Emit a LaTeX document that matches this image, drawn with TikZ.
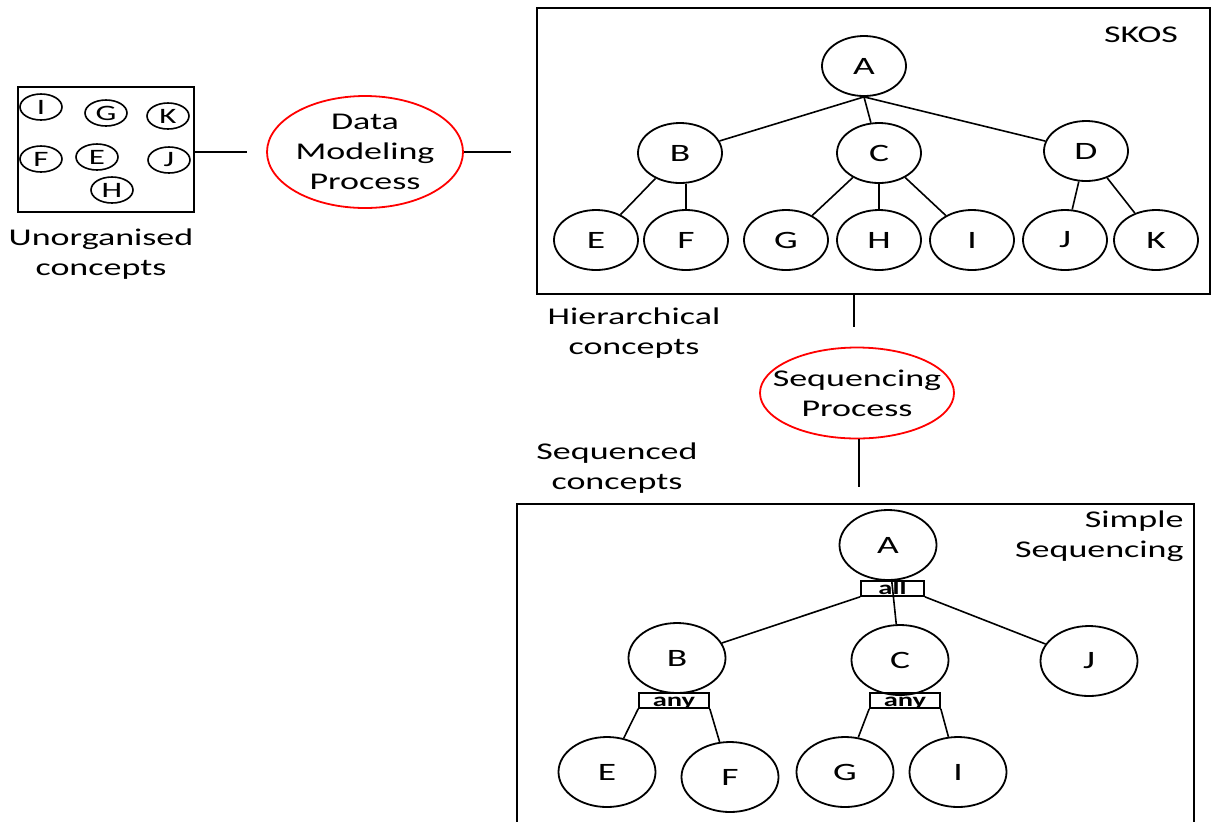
\documentclass[tikz,border=0pt]{standalone}
\usepackage{fontspec}
\setmainfont{Carlito}[FakeStretch=1.5]
\usetikzlibrary{shapes.geometric,positioning}
\tikzset{
  txtfont/.style={font=\fontsize{12}{15}\selectfont},
  concept/.style={ellipse, draw=black, line width=0.9pt, inner sep=0pt, minimum width=42pt, minimum height=30pt, font=\fontsize{12.5}{15}\selectfont},
  bigconcept/.style={concept, minimum width=48.5pt, minimum height=35pt},
  loose/.style={ellipse, draw=black, line width=0.8pt, inner sep=0pt, minimum width=21pt, minimum height=13pt, font=\fontsize{11}{12}\selectfont},
  process/.style={ellipse, draw=red, line width=0.9pt, inner sep=0pt},
  frame/.style={rectangle, draw=black, line width=0.9pt, inner sep=0pt, anchor=north west},
  gate/.style={rectangle, draw=black, line width=0.8pt, inner sep=0pt, minimum width=31.5pt, minimum height=7.5pt, text height=5.5pt, text depth=0pt, font=\bfseries\fontsize{9.5}{10}\selectfont},
  caption/.style={align=center, inner sep=0pt, txtfont},
  branch/.style={draw=black, line width=0.8pt},
}

\begin{document}
\begin{tikzpicture}[x=0.5pt, y=-0.5pt]
  \clip (0,0) rectangle (1211,821);
  % unorganised concepts
  \node[frame, minimum width=88pt, minimum height=62.5pt] (pool) at (17,86) {};
  \node[loose] (uI) at (41,107) {I};
  \node[loose] (uG) at (106,113) {G};
  \node[loose] (uK) at (168,116) {K};
  \node[loose] (uF) at (41,159) {F};
  \node[loose] (uE) at (97,157) {E};
  \node[loose] (uJ) at (169,160) {J};
  \node[loose] (uH) at (112,190) {H};
  \node[caption] (unorg) at (101,254) {Unorganised\\concepts};
  \node[process, minimum width=98pt, minimum height=56pt] (dm) at (365,152) {};
  \node[caption] (dmtxt) at (dm) {Data\\Modeling\\Process};
  \coordinate (dmin) at (247,152);
  \coordinate (dmout) at (511,152);
  \draw[branch] (pool.east |- dmin) -- (dmin);
  \draw[branch] (dm) -- (dmout);

  % SKOS hierarchy
  \node[frame, minimum width=336.5pt, minimum height=143pt] (skosbox) at (536,7) {};
  \node[caption] (skos) at (1141,35) {SKOS};
  \node[concept] (sA) at (864,66) {A};
  \node[concept] (sB) at (680,153) {B};
  \node[concept] (sC) at (879,153) {C};
  \node[concept] (sD) at (1086,151) {D};
  \node[concept] (sE) at (596,240) {E};
  \node[concept] (sF) at (686,240) {F};
  \node[concept] (sG) at (786,240) {G};
  \node[concept] (sH) at (879,240) {H};
  \node[concept] (sI) at (972,240) {I};
  \node[concept] (sJ) at (1065,240) {J};
  \node[concept] (sK) at (1156,240) {K};
  \draw[branch] (sA.south) -- (sB);
  \draw[branch] (sA.south) -- (sC);
  \draw[branch] (sA.south) -- (sD);
  \draw[branch] (sB) -- (sE);
  \draw[branch] (sF |- sB.south) -- (sF);
  \draw[branch] (sC) -- (sG);
  \draw[branch] (sC) -- (sH);
  \draw[branch] (sC) -- (sI);
  \draw[branch] (sD) -- (sJ);
  \draw[branch] (sD) -- (sK);
  \node[caption] (hier) at (634,333) {Hierarchical\\concepts};

  % sequencing step
  \coordinate (sqin) at (854,327);
  \draw[branch] (sqin |- skosbox.south) -- (sqin);
  \node[process, minimum width=97pt, minimum height=45.5pt] (sq) at (857,393) {};
  \node[caption] (sqtxt) at (sq) {Sequencing\\Process};
  \coordinate (sqout) at (859,487);
  \draw[branch] (sqout |- sq.south) -- (sqout);
  \node[caption] (seqd) at (617,468) {Sequenced\\concepts};

  % simple sequencing
  \node[frame, minimum width=338.5pt, minimum height=170pt] (ssbox) at (516,503) {};
  \node[caption, align=right, anchor=east] (ss) at (1184,536) {Simple\\Sequencing};
  \node[bigconcept] (qA) at (888,545) {A};
  \node[bigconcept] (qB) at (677,658) {B};
  \node[bigconcept] (qC) at (900,660) {C};
  \node[bigconcept] (qJ) at (1089,661) {J};
  \node[bigconcept] (qE) at (607,772) {E};
  \node[bigconcept] (qF) at (730,777) {F};
  \node[bigconcept] (qG) at (845,772) {G};
  \node[bigconcept] (qI) at (958,772) {I};
  \node[gate] (all) at (892.5,588.5) {all};
  \node[gate, minimum width=35pt] (anyB) at (674,700.5) {any};
  \node[gate, minimum width=35pt] (anyC) at (905,700.5) {any};
  \draw[branch] (all.south west) -- (qB);
  \draw[branch] (qA) -- (qC);
  \draw[branch] (all.south east) -- (qJ);
  \draw[branch] (anyB.south west) -- (qE);
  \draw[branch] (anyB.south east) -- (qF);
  \draw[branch] (anyC.south west) -- (qG);
  \draw[branch] (anyC.south east) -- (qI);
\end{tikzpicture}
\end{document}
